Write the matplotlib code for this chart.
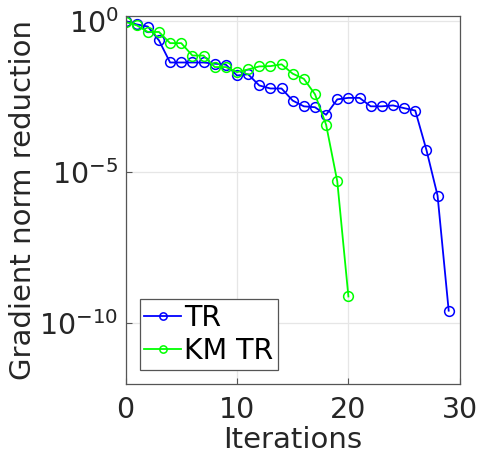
import matplotlib.pyplot as plt
import numpy as np

# log10 of gradient norm reduction
tr_iter = np.arange(30)
tr_log = [0.0, -0.11, -0.18, -0.64, -1.37, -1.37, -1.37, -1.37, -1.41, -1.44,
          -1.80, -1.76, -2.13, -2.23, -2.23, -2.63, -2.82, -2.85, -3.10, -2.59,
          -2.54, -2.54, -2.82, -2.82, -2.79, -2.88, -2.96, -4.26, -5.77, -9.58]
km_iter = np.arange(21)
km_log = [-0.03, -0.14, -0.36, -0.36, -0.73, -0.73, -1.14, -1.14, -1.52, -1.52,
          -1.69, -1.60, -1.50, -1.49, -1.43, -1.74, -1.91, -2.42, -3.43, -5.30,
          -9.11]

tr_vals = 10.0 ** np.array(tr_log)
km_vals = 10.0 ** np.array(km_log)

txt = '#262626'
plt.rcParams['font.family'] = 'DejaVu Sans'

fig = plt.figure(figsize=(4.81, 4.63), dpi=100)
ax = fig.add_axes([0.261, 0.171, 0.695, 0.794])

ax.semilogy(tr_iter, tr_vals, '-o', color=(0, 0, 1), lw=1.3, ms=7,
            mfc='none', mew=1.1, label='TR')
ax.semilogy(km_iter, km_vals, '-o', color=(0, 1, 0), lw=1.3, ms=7,
            mfc='none', mew=1.1, label='KM TR')

ax.set_xlim(0, 30)
ax.set_ylim(1e-12, 1.45)
ax.set_xticks([0, 10, 20, 30])
ax.set_yticks([1e0, 1e-5, 1e-10])
ax.set_yticklabels([r'$\mathregular{10^{0}}$', r'$\mathregular{10^{-5}}$',
                    r'$\mathregular{10^{-10}}$'])
ax.minorticks_off()
ax.tick_params(direction='in', labelsize=20.5, colors='#555555',
               labelcolor=txt, length=4)
ax.tick_params(axis='x', pad=9)
ax.tick_params(axis='y', pad=5)
ax.grid(True, color='#e6e6e6', lw=0.9)
ax.set_axisbelow(True)
for s in ax.spines.values():
    s.set_color('#555555')
    s.set_linewidth(0.9)

ax.set_xlabel('Iterations', fontsize=21, color=txt, labelpad=1)
ax.set_ylabel('Gradient norm reduction', fontsize=21, color=txt, labelpad=2)

leg = ax.legend(loc='lower left', fontsize=20.5, fancybox=False, framealpha=1,
                edgecolor='#555555', handlelength=1.3, handletextpad=0.12,
                borderpad=0.15, labelspacing=0.2, borderaxespad=0.5,
                markerscale=0.75)
leg.get_frame().set_linewidth(0.9)

fig.savefig('out.png', dpi=100)
